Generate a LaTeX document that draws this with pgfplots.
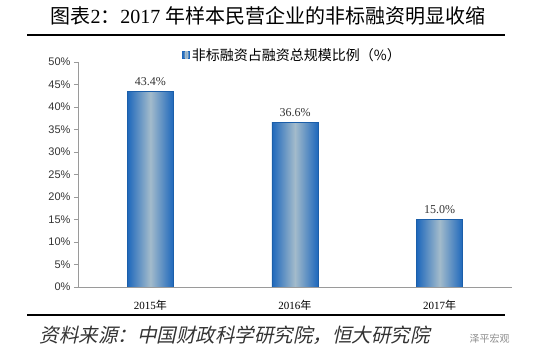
\documentclass[border=0pt]{standalone}
\usepackage{fontspec}
\setmainfont{Liberation Serif}
\setsansfont{Liberation Sans}
\newfontfamily\cjk{Noto Sans CJK SC}
\newfontfamily\cjkit[FakeSlant=0.22]{Noto Sans CJK SC}
\usepackage{pgfplots}
\pgfplotsset{compat=1.18}
\definecolor{bedge}{HTML}{1E68BC}
\definecolor{bmid}{HTML}{A3BBCB}
\definecolor{axgray}{HTML}{9A9A9A}
\begin{document}
\begin{tikzpicture}[x=1pt,y=1pt]
\useasboundingbox (0,0) rectangle (550,356);
\node[font=\fontsize{20}{20}\selectfont, anchor=center] at (268,340) {{\cjk 图表}2{\cjk ：}2017 {\cjk 年样本民营企业的非标融资明显收缩}};
\draw[line width=2.6pt] (27,321) -- (505,321);
\draw[line width=2.2pt] (27,41) -- (505,41);
\node[font=\cjkit\fontsize{19.5}{19.5}\selectfont, anchor=west, text=black!80] at (36,21) {资料来源：中国财政科学研究院，恒大研究院};
\node[font=\cjk\fontsize{10}{10}\selectfont, anchor=west, text=black!45] at (466,17) {泽平宏观};
\begin{axis}[
  at={(78pt,69pt)}, anchor=south west,
  scale only axis, width=434pt, height=225pt,
  ymin=0, ymax=50, xmin=-0.5, xmax=2.5,
  axis x line=bottom, axis y line=left,
  axis line style={axgray, -},
  ytick={0,5,...,50},
  /pgf/number format/assume math mode=true,
  yticklabel={\pgfmathprintnumber{\tick}\%},
  yticklabel style={font=\sffamily\fontsize{11}{11}\selectfont, text=black!80},
  ytick style={axgray}, tick align=outside, major tick length=4pt,
  xtick={0,1,2},
  xticklabels={{2015{\cjk 年}},{2016{\cjk 年}},{2017{\cjk 年}}},
  xticklabel style={font=\fontsize{11}{11}\selectfont, yshift=-6pt},
  x tick style={draw=none},
  extra x ticks={0.5,1.5,2.5}, extra x tick labels={},
  extra x tick style={tick style={axgray, draw=axgray}, major tick length=4pt},
  ybar, bar width=46pt, bar shift=0pt,
  nodes near coords={\pgfmathprintnumber[fixed,precision=1,fixed zerofill]{\pgfplotspointmeta}\%},
  nodes near coords style={font=\fontsize{12}{12}\selectfont, text=black!80, yshift=2pt},
  legend style={at={(0.24,1.03)}, anchor=west, draw=none, fill=none, font=\cjk\fontsize{14}{14}\selectfont, inner sep=0pt},
  legend image code/.code={\fill[bedge] (0pt,-3.5pt) rectangle (7pt,3.5pt); \fill[bmid] (2.5pt,-3.5pt) rectangle (4.5pt,3.5pt);},
  barstyle/.style={draw=bedge!90!black, line width=0.6pt, left color=bedge, right color=bedge, middle color=bmid},
]
\addplot[barstyle] coordinates {(0,43.4)};
\addlegendentry{非标融资占融资总规模比例（\%）}
\addplot[barstyle, forget plot] coordinates {(1,36.6)};
\addplot[barstyle, forget plot] coordinates {(2,15.0)};
\end{axis}
\end{tikzpicture}
\end{document}
